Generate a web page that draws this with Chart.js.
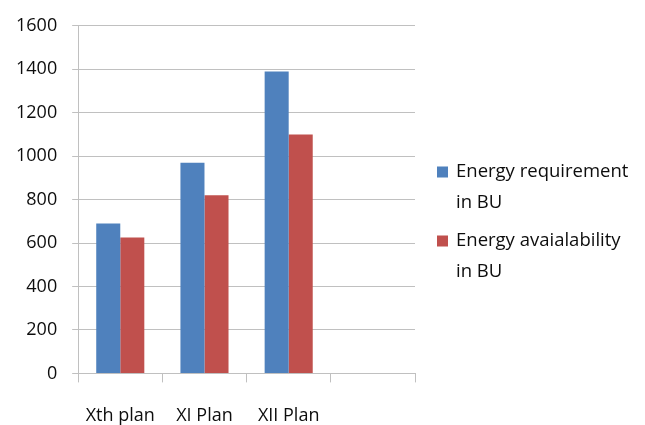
<!DOCTYPE html>
<html>
<head>
<meta charset="utf-8">
<script src="https://cdn.jsdelivr.net/npm/chart.js@4.4.1/dist/chart.umd.min.js"></script>
<style>
  html, body { margin: 0; padding: 0; background: #fff; }
  #wrap { position: relative; width: 645px; height: 425px; }
</style>
</head>
<body>
<div id="wrap"><canvas id="c" width="645" height="425"></canvas></div>
<script>
// Plan periods on the x axis (the fourth slot is left empty)
const categories = ['Xth plan', 'XI Plan', 'XII Plan', ''];
// Energy in billion units (BU)
const requirement = [690, 970, 1390, null];
const availability = [625, 820, 1100, null];
const seriesNames = ['Energy requirement\nin BU', 'Energy avaialability\nin BU'];
const yTicks = [0, 200, 400, 600, 800, 1000, 1200, 1400, 1600];

const FONT = '"Open Sans", Lato, sans-serif';
const GRID = '#c0c0c0';
const TEXT = '#0d0d0d';

// Legend on the right with wrapped labels
const sideLegend = {
  id: 'sideLegend',
  afterDraw(chart) {
    const ctx = chart.ctx;
    const x0 = 437, boxSize = 11, textX = 456;
    const lineH = 31;
    const tops = [172, 241];
    ctx.save();
    ctx.font = '18.5px ' + FONT;
    ctx.textBaseline = 'middle';
    ctx.textAlign = 'left';
    chart.data.datasets.forEach((ds, i) => {
      const lines = ds.label.split('\n');
      const y = tops[i];
      ctx.fillStyle = ds.backgroundColor;
      ctx.fillRect(x0, y - boxSize / 2, boxSize, boxSize);
      ctx.fillStyle = TEXT;
      lines.forEach((ln, j) => ctx.fillText(ln, textX, y + j * lineH));
    });
    ctx.restore();
  }
};

new Chart(document.getElementById('c'), {
  type: 'bar',
  data: {
    labels: categories,
    datasets: [
      { label: seriesNames[0], data: requirement, backgroundColor: '#4F81BD' },
      { label: seriesNames[1], data: availability, backgroundColor: '#C0504D' }
    ]
  },
  options: {
    responsive: false,
    animation: false,
    devicePixelRatio: 1,
    layout: { padding: { top: 16, right: 230, left: 1, bottom: -25 } },
    datasets: { bar: { categoryPercentage: 0.571, barPercentage: 1.0 } },
    plugins: { legend: { display: false }, tooltip: { enabled: false } },
    scales: {
      x: {
        grid: { display: true, drawOnChartArea: false, drawTicks: true, tickLength: 9, color: GRID, offset: true },
        border: { color: GRID },
        ticks: { color: TEXT, font: { family: FONT, size: 18 }, padding: 23, maxRotation: 0 }
      },
      y: {
        min: 0, max: 1600,
        afterBuildTicks(axis) { axis.ticks = yTicks.map(v => ({ value: v })); },
        grid: { color: GRID, tickLength: 6 },
        border: { color: GRID },
        ticks: { color: TEXT, font: { family: FONT, size: 18 }, padding: 15, callback: v => String(v) }
      }
    }
  },
  plugins: [sideLegend]
});
</script>
</body>
</html>
